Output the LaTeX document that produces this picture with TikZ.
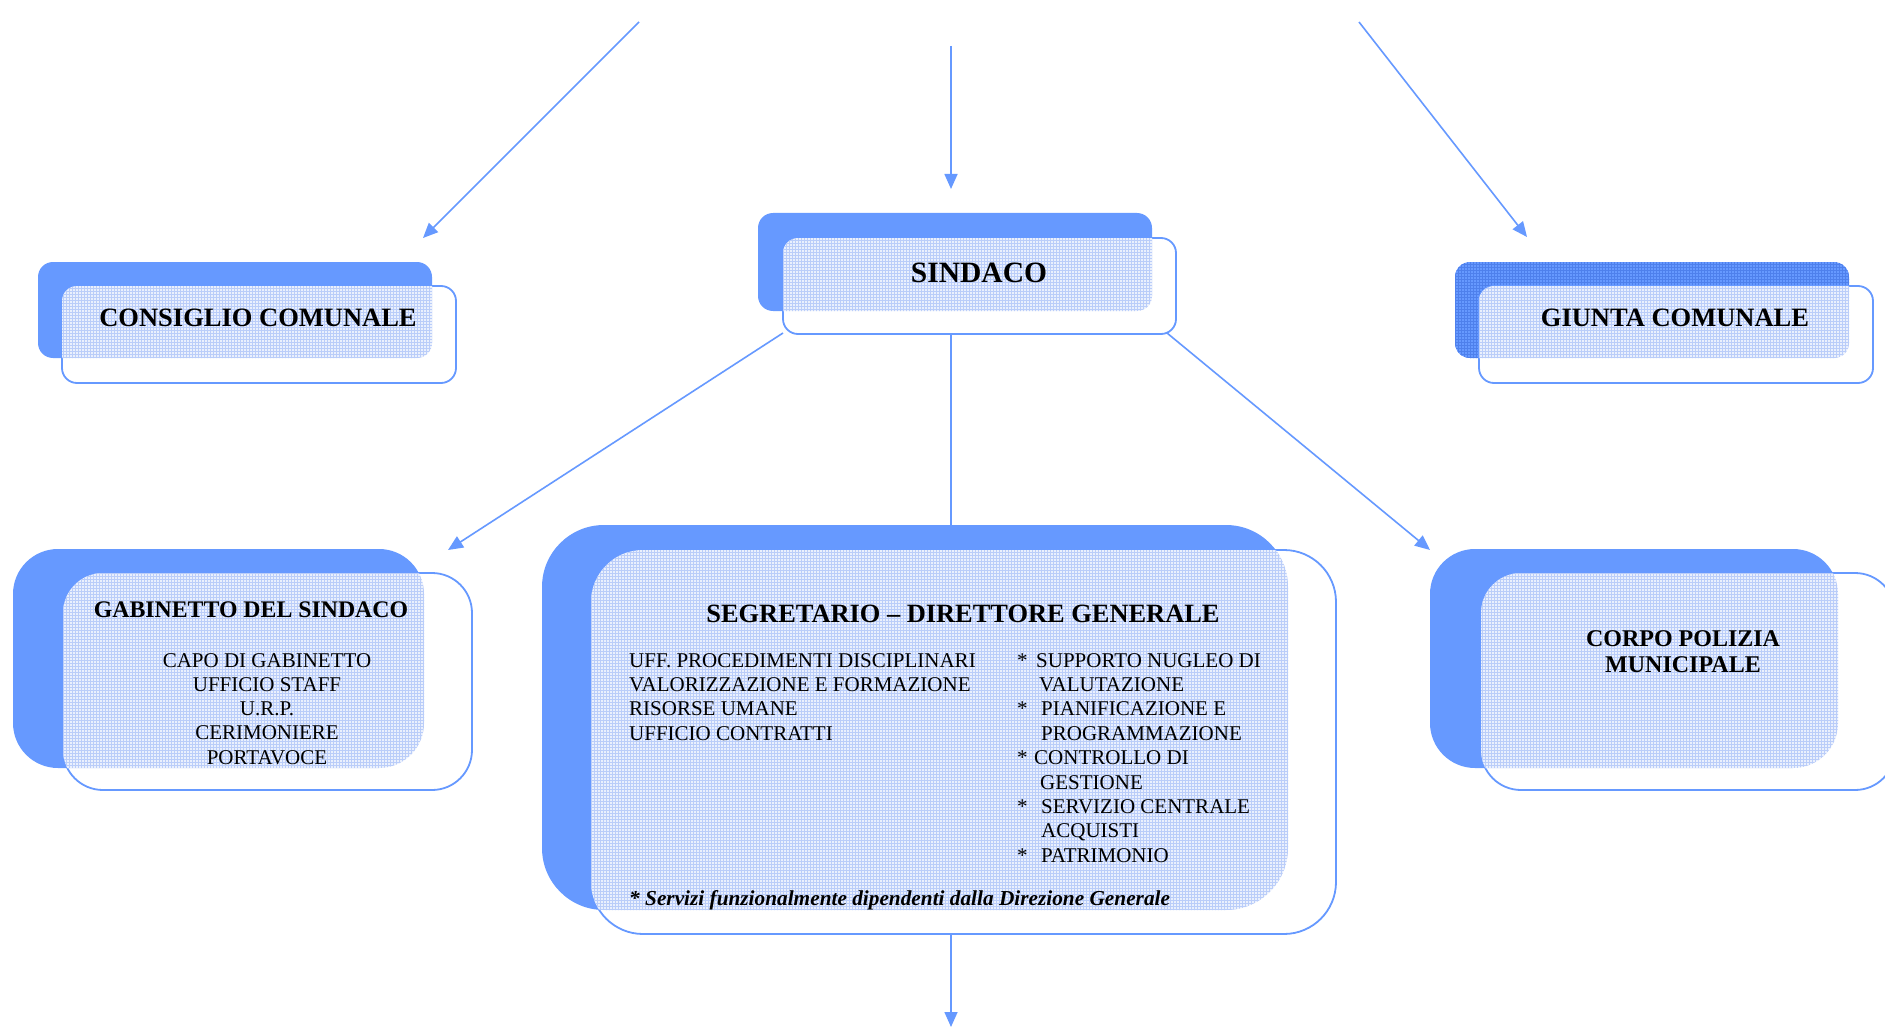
\documentclass[tikz,border=0pt]{standalone}
\usepackage{fontspec}
\setmainfont{Liberation Serif}
\usetikzlibrary{arrows.meta,fit,calc}
\definecolor{boxblue}{RGB}{102,153,255}
\definecolor{meshbg}{RGB}{234,240,253}
\definecolor{meshln}{RGB}{186,205,249}
\definecolor{meshdark}{RGB}{78,128,236}
\tikzset{
  boxline/.style={draw=boxblue, line width=1.8pt},
  backplain/.style={fill=boxblue},
  backmesh/.style={fill=boxblue, path picture={\draw[xstep=3pt, ystep=3pt, line width=0.7pt, meshdark] ([shift={(-3pt,-3pt)}]path picture bounding box.south west) grid ([shift={(3pt,3pt)}]path picture bounding box.north east);}},
  conn/.style={draw=boxblue, line width=1.6pt},
  arr/.style={conn, -{Triangle[length=15pt,width=13pt]}},
  bigtitle/.style={font=\bfseries\fontsize{26.5}{30}\selectfont, inner sep=0pt, anchor=base},
  sindtitle/.style={font=\bfseries\fontsize{29.5}{33}\selectfont, inner sep=0pt, anchor=base},
  midtitle/.style={font=\bfseries\fontsize{23.8}{27}\selectfont, inner sep=0pt, anchor=base},
  segtitle/.style={font=\bfseries\fontsize{26.4}{30}\selectfont, inner sep=0pt, anchor=base},
  corptitle/.style={font=\bfseries\fontsize{24}{27}\selectfont, inner sep=0pt, anchor=base},
  body/.style={font=\fontsize{21}{24}\selectfont, inner sep=0pt, anchor=base},
  bodyw/.style={body, anchor=base west},
  note/.style={font=\bfseries\itshape\fontsize{21.3}{24}\selectfont, inner sep=0pt, anchor=base west},
}
% #1 name, #2 back corner, #3 back corner, #4 front c1, #5 front c2, #6 back radius, #7 front radius, #8 back style
\newcommand\boxpair[8]{%
  \path[#8, rounded corners=#6] (#2) rectangle (#3);
  \fill[white, rounded corners=#7] (#4) rectangle (#5);
  \draw[boxline, rounded corners=#7] (#4) rectangle (#5);
  \begin{scope}
    \clip[rounded corners=#6] (#2) rectangle (#3);
    \clip[rounded corners=#7] (#4) rectangle (#5);
    \fill[meshbg] (#4) rectangle (#5);
    \draw[xstep=3pt, ystep=3pt, line width=0.6pt, meshln] (#4) grid (#5);
  \end{scope}
  \node[fit={(#4)(#5)}, inner sep=0pt] (#1) {};
  \node[fit={(#2)(#3)}, inner sep=0pt] (#1-back) {};
}
\begin{document}
\begin{tikzpicture}[x=1pt,y=-1pt]
\useasboundingbox (0,0) rectangle (1885,1027);
\clip (0,0) rectangle (1885,1027);
\fill[white] (0,0) rectangle (1885,1027);

% boxes
\boxpair{consiglio}{38,262}{432,358}{62,286}{456,383}{15pt}{15pt}{backplain}
\boxpair{sindaco}{758,213}{1152,311}{783,238}{1176,334}{15pt}{15pt}{backplain}
\boxpair{giunta}{1455,262}{1849,358}{1479,286}{1873,383}{15pt}{15pt}{backmesh}
\boxpair{gabinetto}{13,549}{424,768}{63,573}{472,790}{45pt}{40pt}{backplain}
\boxpair{segretario}{542,525}{1288,910}{591,550}{1336,934}{62pt}{52pt}{backplain}
\boxpair{polizia}{1430,549}{1838,768}{1481,573}{1895,790}{45pt}{40pt}{backplain}

% connector end points
\coordinate (inL) at (639,22);
\coordinate (inM) at (951,46);
\coordinate (inR) at (1359,22);
\coordinate (tipC) at (423,238);
\coordinate (tipS) at (951,189);
\coordinate (tipG) at (1527,237);
\coordinate (tipGab) at (448,550);
\coordinate (tipPol) at (1430,550);
\coordinate (sindL) at (783,333);
\coordinate (sindR) at (1167,333);
\coordinate (sindB) at (951,334);
\coordinate (segT) at (951,525);
\coordinate (segB) at (951,934);
\coordinate (outB) at (951,1027);

\draw[arr] (inL) -- (tipC);
\draw[arr] (inM) -- (tipS);
\draw[arr] (inR) -- (tipG);
\draw[arr] (sindL) -- (tipGab);
\draw[arr] (sindR) -- (tipPol);
\draw[conn] (sindB) -- (segT);
\draw[arr] (segB) -- (outB);

% texts
\node[bigtitle] (consiglio-t) at (258,326) {CONSIGLIO COMUNALE};
\node[sindtitle] (sindaco-t) at (979,282) {SINDACO};
\node[bigtitle] (giunta-t) at (1675,326) {GIUNTA COMUNALE};

\node[midtitle] (gab-t) at (251,617) {GABINETTO DEL SINDACO};
\foreach \t [count=\i] in {CAPO DI GABINETTO, UFFICIO STAFF, U.R.P., CERIMONIERE, PORTAVOCE}
  \node[body] (gab-\i) at (267,{667+24.3*(\i-1)}) {\t};

\node[segtitle] (seg-t) at (963,622) {SEGRETARIO -- DIRETTORE GENERALE};
\foreach \t [count=\i] in {UFF. PROCEDIMENTI DISCIPLINARI, VALORIZZAZIONE E FORMAZIONE, RISORSE UMANE, UFFICIO CONTRATTI}
  \node[bodyw] (segl-\i) at (629,{667+24.4*(\i-1)}) {\t};
\foreach \t/\x [count=\i] in {SUPPORTO NUGLEO DI/1036, VALUTAZIONE/1039, PIANIFICAZIONE E/1041, PROGRAMMAZIONE/1041, CONTROLLO DI/1034, GESTIONE/1040, SERVIZIO CENTRALE/1041, ACQUISTI/1041, PATRIMONIO/1041}
  \node[bodyw] (segr-\i) at (\x,{667+24.4*(\i-1)}) {\t};
\foreach \i in {1,3,5,7,9}
  \node[bodyw] (star-\i) at (1017,{667+24.4*(\i-1)}) {*};
\node[note] (seg-note) at (629,905) {* Servizi funzionalmente dipendenti dalla Direzione Generale};

\node[corptitle] (pol-1) at (1683,646) {CORPO POLIZIA};
\node[corptitle] (pol-2) at (1683,672) {MUNICIPALE};
\end{tikzpicture}
\end{document}
